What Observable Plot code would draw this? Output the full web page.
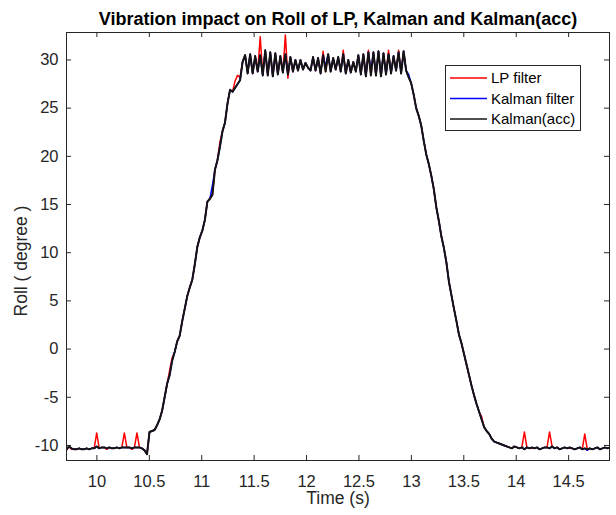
<!DOCTYPE html>
<html><head><meta charset="utf-8">
<script src="https://cdn.jsdelivr.net/npm/d3@7"></script>
<script src="https://cdn.jsdelivr.net/npm/@observablehq/plot@0.6"></script>
<style>body{margin:0;background:#fff;}</style>
</head><body><div id="chart"></div>
<script>
const title = "Vibration impact on Roll of LP, Kalman and Kalman(acc)";
const xLabel = "Time (s)";
const yLabel = "Roll ( degree )";
const seriesNames = ["LP filter", "Kalman filter", "Kalman(acc)"];
const seriesColors = ["#ff0000", "#0000ff", "#141414"];
const seriesWidths = [1.5, 1.5, 2];
const xTicks = [10, 10.5, 11, 11.5, 12, 12.5, 13, 13.5, 14, 14.5];
const yTicks = [-10, -5, 0, 5, 10, 15, 20, 25, 30];
const xDomain = [9.71, 14.89];
const yDomain = [-11.56, 32.85];
// uniform sampling of the recorded signals
const t0 = 9.71, dt = 0.024;

const lpFilter = [
 -10.5,-10.1,-10.4,-10.4,-10.4,-10.3,-10.4,-10.4,-10.3,-10.4,
 -10.3,-10.3,-8.7,-10.3,-10.2,-10.2,-10.4,-10.2,-10.3,-10.3,
 -10.2,-10.3,-10.2,-8.7,-10.2,-10.2,-10.4,-10.2,-8.7,-10.2,
 -10.3,-10.5,-10.9,-8.6,-8.5,-8.4,-7.9,-7.3,-6.4,-5.0,
 -3.6,-2.2,-0.9,-0.3,0.8,1.4,2.9,4.2,5.5,6.4,
 7.2,8.8,10.6,11.6,12.3,13.4,15.3,15.6,16.0,18.6,
 19.6,21.5,22.6,23.5,25.5,26.9,26.7,27.8,28.4,28.2,
 29.8,30.5,28.6,30.6,28.6,30.4,28.8,32.4,28.4,31.0,
 28.4,30.8,28.3,30.7,28.5,30.4,28.7,32.6,28.1,30.3,
 28.8,30.0,28.9,30.0,29.0,29.7,29.2,28.9,30.3,28.9,
 30.2,28.6,30.9,28.8,30.6,28.8,30.2,29.0,30.3,28.8,
 31.0,28.6,30.0,28.7,29.8,28.8,30.5,28.5,30.6,28.3,
 31.0,28.4,30.8,28.4,30.9,28.3,30.7,28.5,31.0,28.6,
 30.4,28.9,31.0,28.6,30.9,28.9,28.2,27.6,26.4,25.0,
 24.2,23.2,21.6,20.2,19.2,18.0,16.6,14.7,13.3,11.7,
 10.5,9.0,7.0,5.6,4.2,2.9,1.5,0.6,-0.5,-1.6,
 -2.7,-3.8,-4.8,-5.7,-6.5,-7.0,-8.1,-8.5,-8.8,-9.3,
 -9.6,-9.7,-9.8,-9.9,-10.0,-10.1,-10.2,-10.3,-10.1,-10.2,
 -10.3,-10.2,-8.6,-10.2,-10.3,-10.3,-10.3,-10.2,-10.4,-10.3,
 -10.2,-10.2,-8.6,-10.1,-10.3,-10.2,-10.4,-10.3,-10.2,-10.3,
 -10.3,-10.3,-10.4,-10.3,-10.2,-10.4,-8.8,-10.4,-10.3,-10.4,
 -10.3,-10.2,-10.4,-10.3,-10.2,-10.3,-10.2
];
const kalman = [
 -10.4,-10.1,-10.3,-10.4,-10.4,-10.3,-10.4,-10.4,-10.3,-10.4,
 -10.3,-10.3,-10.1,-10.3,-10.2,-10.2,-10.3,-10.2,-10.3,-10.3,
 -10.2,-10.3,-10.2,-10.2,-10.2,-10.2,-10.3,-10.2,-10.2,-10.2,
 -10.3,-10.5,-10.9,-8.6,-8.5,-8.4,-7.9,-7.3,-6.4,-5.0,
 -3.6,-2.7,-1.2,-0.3,0.8,1.4,2.9,4.2,5.5,6.4,
 7.2,8.8,10.6,11.6,12.3,13.4,15.3,15.6,17.0,18.6,
 19.6,21.0,22.6,23.5,25.5,26.9,26.7,27.1,27.5,27.9,
 29.8,30.5,28.6,30.6,28.6,30.4,28.8,30.5,28.4,31.0,
 28.4,30.8,28.3,30.7,28.5,30.4,28.7,30.6,28.5,30.3,
 28.8,30.0,28.9,30.0,29.0,29.7,29.2,28.9,30.3,28.9,
 30.2,28.6,30.5,29.3,30.6,28.8,30.2,29.0,30.3,28.8,
 30.6,28.6,30.0,28.7,29.8,28.8,30.5,28.5,30.6,28.3,
 30.8,28.9,30.8,28.4,30.9,28.3,30.7,28.5,30.6,28.6,
 30.4,28.9,30.8,28.6,30.9,28.9,28.5,27.6,26.4,25.0,
 24.2,23.2,21.6,20.2,19.2,18.0,16.6,14.7,13.3,11.7,
 10.5,9.0,7.0,5.6,4.2,2.9,1.5,0.6,-0.5,-1.6,
 -2.7,-3.8,-4.8,-5.7,-6.5,-7.3,-8.1,-8.5,-8.8,-9.3,
 -9.6,-9.7,-9.8,-9.9,-10.0,-10.1,-10.2,-10.3,-10.1,-10.2,
 -10.3,-10.2,-10.4,-10.2,-10.3,-10.2,-10.3,-10.2,-10.4,-10.3,
 -10.2,-10.2,-10.3,-10.1,-10.3,-10.2,-10.4,-10.3,-10.2,-10.3,
 -10.2,-10.3,-10.4,-10.3,-10.2,-10.4,-10.3,-10.5,-10.3,-10.4,
 -10.3,-10.2,-10.4,-10.3,-10.2,-10.3,-10.2
];
const kalmanAcc = [
 -10.4,-10.1,-10.3,-10.4,-10.4,-10.3,-10.4,-10.4,-10.3,-10.4,
 -10.3,-10.3,-10.1,-10.3,-10.2,-10.2,-10.3,-10.2,-10.3,-10.3,
 -10.2,-10.3,-10.2,-10.2,-10.2,-10.2,-10.3,-10.2,-10.2,-10.2,
 -10.3,-10.5,-10.9,-8.6,-8.5,-8.4,-7.9,-7.3,-6.4,-5.0,
 -3.6,-2.7,-1.2,-0.3,0.8,1.4,2.9,4.2,5.5,6.4,
 7.2,8.8,10.6,11.6,12.3,13.4,15.3,15.6,16.0,18.6,
 19.6,21.0,22.6,23.5,25.5,26.9,26.7,27.1,27.5,27.9,
 29.8,30.5,28.6,30.6,28.6,30.4,28.8,30.5,28.4,31.0,
 28.4,30.8,28.3,30.7,28.5,30.4,28.7,30.6,28.5,30.3,
 28.8,30.0,28.9,30.0,29.0,29.7,29.2,28.9,30.3,28.9,
 30.2,28.6,30.5,28.8,30.6,28.8,30.2,29.0,30.3,28.8,
 30.6,28.6,30.0,28.7,29.8,28.8,30.5,28.5,30.6,28.3,
 30.8,28.4,30.8,28.4,30.9,28.3,30.7,28.5,30.6,28.6,
 30.4,28.9,30.8,28.6,30.9,28.9,28.2,27.6,26.4,25.0,
 24.2,23.2,21.6,20.2,19.2,18.0,16.6,14.7,13.3,11.7,
 10.5,9.0,7.0,5.6,4.2,2.9,1.5,0.6,-0.5,-1.6,
 -2.7,-3.8,-4.8,-5.7,-6.5,-7.3,-8.1,-8.5,-8.8,-9.3,
 -9.6,-9.7,-9.8,-9.9,-10.0,-10.1,-10.2,-10.3,-10.1,-10.2,
 -10.3,-10.2,-10.4,-10.2,-10.3,-10.2,-10.3,-10.2,-10.4,-10.3,
 -10.2,-10.2,-10.3,-10.1,-10.3,-10.2,-10.4,-10.3,-10.2,-10.3,
 -10.2,-10.3,-10.4,-10.3,-10.2,-10.4,-10.3,-10.4,-10.3,-10.4,
 -10.3,-10.2,-10.4,-10.3,-10.2,-10.3,-10.2
];

const toRows = vals => vals.map((v, i) => ({t: t0 + i * dt, v}));
const series = [lpFilter, kalman, kalmanAcc];

const W = 616, H = 515, mL = 66, mR = 7, mT = 32, mB = 55;
const fw = W - mL - mR, fh = H - mT - mB;
const axisColor = "#262626";

const plot = Plot.plot({
  width: W, height: H,
  marginLeft: mL, marginRight: mR, marginTop: mT, marginBottom: mB,
  x: {domain: xDomain, axis: null},
  y: {domain: yDomain, axis: null},
  style: {fontFamily: "'Liberation Sans', Arial, sans-serif", background: "#fff", color: axisColor},
  marks: [
    ...series.map((s, k) => Plot.line(toRows(s), {x: "t", y: "v", stroke: seriesColors[k], strokeWidth: seriesWidths[k], clip: true})),
    Plot.frame({stroke: axisColor}),
    Plot.tickX(xTicks, {x: d => d, stroke: axisColor, insetTop: fh - 5}),
    Plot.tickX(xTicks, {x: d => d, stroke: axisColor, insetBottom: fh - 5}),
    Plot.tickY(yTicks, {y: d => d, stroke: axisColor, insetRight: fw - 5}),
    Plot.tickY(yTicks, {y: d => d, stroke: axisColor, insetLeft: fw - 5}),
    Plot.text(xTicks, {x: d => d, text: d => String(d), frameAnchor: "bottom", lineAnchor: "bottom", dy: 26, fontSize: 16.5, fill: axisColor}),
    Plot.text(yTicks, {y: d => d, text: d => String(d), frameAnchor: "left", textAnchor: "end", dx: -8, fontSize: 16.5, fill: axisColor}),
    Plot.text([xLabel], {text: d => d, frameAnchor: "bottom", lineAnchor: "bottom", dy: 43, fontSize: 17.5, fill: axisColor}),
    Plot.text([title], {text: d => d, frameAnchor: "top", lineAnchor: "bottom", dy: -8, fontSize: 18, fontWeight: "bold", fill: "#000"})
  ]
});

const svg = d3.select(plot);
svg.append("text")
  .attr("transform", "translate(27,261) rotate(-90)")
  .attr("text-anchor", "middle")
  .attr("font-size", 17.5).attr("fill", axisColor)
  .text(yLabel);
const lg = svg.append("g");
lg.append("rect").attr("x", 445.5).attr("y", 65.5).attr("width", 135).attr("height", 65)
  .attr("fill", "#fff").attr("stroke", axisColor);
seriesNames.forEach((name, k) => {
  const y = 78 + k * 20.5;
  lg.append("line").attr("x1", 450).attr("x2", 487).attr("y1", y).attr("y2", y)
    .attr("stroke", seriesColors[k]).attr("stroke-width", 1.6);
  lg.append("text").attr("x", 491).attr("y", y).attr("dy", "0.35em")
    .attr("text-anchor", "start")
    .attr("font-size", 15).attr("fill", "#000").text(name);
});
document.getElementById("chart").appendChild(plot);
</script>
</body></html>
